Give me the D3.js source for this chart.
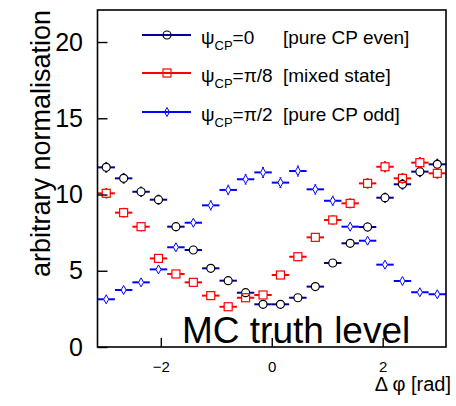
<!DOCTYPE html>
<html>
<head>
<meta charset="utf-8">
<script src="https://cdn.jsdelivr.net/npm/d3@7/dist/d3.min.js"></script>
<style>
  html, body { margin: 0; padding: 0; background: #fff; }
  svg { display: block; font-family: "Liberation Sans", Arial, Helvetica, sans-serif; }
</style>
</head>
<body>
<svg id="chart" width="456" height="406"></svg>
<script>
// ---- data ----
const nBins = 20;
const xTicks = [-2, 0, 2];
const yTicks = [0, 5, 10, 15, 20];
const evenValues  = [11.78, 11.06, 10.18, 9.66, 7.89, 6.36, 5.16, 4.35, 3.56, 2.80, 2.80, 3.23, 3.96, 5.51, 6.80, 7.87, 9.79, 10.67, 11.50, 11.98];
const mixedValues = [10.08, 8.81, 7.89, 5.81, 4.79, 4.24, 3.37, 2.64, 3.23, 3.41, 4.72, 5.92, 7.19, 8.33, 9.42, 10.73, 11.82, 11.06, 12.09, 11.39];
const oddValues   = [3.13, 3.74, 4.24, 5.09, 6.54, 8.15, 9.29, 10.30, 11.00, 11.45, 10.78, 11.54, 10.34, 9.59, 7.89, 6.97, 5.40, 4.33, 3.59, 3.46];
const evenErrors  = [0.35, 0.35, 0.34, 0.33, 0.30, 0.27, 0.25, 0.23, 0.20, 0.18, 0.18, 0.19, 0.21, 0.25, 0.28, 0.30, 0.33, 0.35, 0.36, 0.37];
const mixedErrors = [0.34, 0.32, 0.30, 0.26, 0.24, 0.22, 0.20, 0.18, 0.19, 0.20, 0.23, 0.26, 0.28, 0.31, 0.33, 0.35, 0.37, 0.35, 0.37, 0.36];
const oddErrors   = [0.19, 0.21, 0.22, 0.24, 0.27, 0.30, 0.33, 0.34, 0.35, 0.36, 0.35, 0.36, 0.34, 0.33, 0.30, 0.28, 0.25, 0.22, 0.20, 0.20];
const seriesNames = ["=0", "=\u03C0/8", "=\u03C0/2"];
const seriesNotes = ["[pure CP even]", "[mixed state]", "[pure CP odd]"];

// ---- layout ----
const L = 97.5, R = 446, T = 10, B = 347;
const svg = d3.select("#chart");

const x = d3.scaleLinear().domain([-Math.PI, Math.PI]).range([L, R]);
const y = d3.scaleLinear().domain([0, 22.1]).range([B, T]);
const binW = 2 * Math.PI / nBins;
const binLo = d3.range(nBins).map(i => -Math.PI + i * binW);

const series = [
  { vals: evenValues,  errs: evenErrors,  line: "#000099", mark: "#000000", shape: "circle" },
  { vals: mixedValues, errs: mixedErrors, line: "#ff0000", mark: "#ff0000", shape: "square" },
  { vals: oddValues,   errs: oddErrors,   line: "#0000ff", mark: "#0000ff", shape: "diamond" }
];

function halfW(shape) { return shape === "circle" ? 4 : shape === "square" ? 4 : 2.5; }
function halfH(shape) { return shape === "circle" ? 4 : shape === "square" ? 4 : 4.5; }

function drawMarker(g, shape, cx, cy, color) {
  if (shape === "circle") {
    g.append("circle").attr("cx", cx).attr("cy", cy).attr("r", 4)
      .attr("fill", "none").attr("stroke", color).attr("stroke-width", 1.2);
  } else if (shape === "square") {
    g.append("rect").attr("x", cx - 4).attr("y", cy - 4).attr("width", 8).attr("height", 8)
      .attr("fill", "none").attr("stroke", color).attr("stroke-width", 1.2);
  } else {
    g.append("path").attr("d", `M${cx},${cy-4.5}L${cx+2.5},${cy}L${cx},${cy+4.5}L${cx-2.5},${cy}Z`)
      .attr("fill", "none").attr("stroke", color).attr("stroke-width", 1);
  }
}

// ---- data points ----
const plot = svg.append("g");
series.forEach(s => {
  const g = plot.append("g");
  s.vals.forEach((v, i) => {
    const x0 = x(binLo[i]), x1 = x(binLo[i] + binW), cx = x(binLo[i] + binW / 2), cy = y(v);
    const hw = halfW(s.shape), hh = halfH(s.shape);
    g.append("line").attr("x1", x0).attr("x2", cx - hw).attr("y1", cy).attr("y2", cy)
      .attr("stroke", s.line).attr("stroke-width", 2);
    g.append("line").attr("x1", cx + hw).attr("x2", x1).attr("y1", cy).attr("y2", cy)
      .attr("stroke", s.line).attr("stroke-width", 2);
    const eTop = y(v + s.errs[i]), eBot = y(v - s.errs[i]);
    if (eTop < cy - hh) g.append("line").attr("x1", cx).attr("x2", cx).attr("y1", cy - hh).attr("y2", eTop)
      .attr("stroke", s.line).attr("stroke-width", 2);
    if (eBot > cy + hh) g.append("line").attr("x1", cx).attr("x2", cx).attr("y1", cy + hh).attr("y2", eBot)
      .attr("stroke", s.line).attr("stroke-width", 2);
    drawMarker(g, s.shape, cx, cy, s.mark);
  });
});

// ---- frame and axes ----
svg.append("rect").attr("x", L).attr("y", T).attr("width", R - L).attr("height", B - T)
  .attr("fill", "none").attr("stroke", "#000").attr("stroke-width", 1.6);

const xAxis = d3.axisBottom(x).tickValues(xTicks).tickSizeInner(-9).tickSizeOuter(0)
  .tickPadding(14).tickFormat(d => d < 0 ? "\u2212" + Math.abs(d) : String(d));
const gx = svg.append("g").attr("transform", `translate(0,${B})`).call(xAxis);
gx.select(".domain").remove();
gx.selectAll(".tick line").attr("stroke", "#000").attr("stroke-width", 1.4);
gx.selectAll(".tick text").attr("font-size", 15).attr("fill", "#000")
  .attr("font-family", "Liberation Sans, Arial, sans-serif").attr("dy", "0.71em");

const yAxis = d3.axisLeft(y).tickValues(yTicks).tickSizeInner(-10).tickSizeOuter(0)
  .tickPadding(14.5).tickFormat(d3.format("d"));
const gy = svg.append("g").attr("transform", `translate(${L},0)`).call(yAxis);
gy.select(".domain").remove();
gy.selectAll(".tick line").attr("stroke", "#000").attr("stroke-width", 1.4);
gy.selectAll(".tick text").attr("font-size", 25).attr("fill", "#000")
  .attr("font-family", "Liberation Sans, Arial, sans-serif");

// axis titles
svg.append("text").attr("transform", `translate(50,10) rotate(-90)`)
  .attr("text-anchor", "end").attr("font-size", 27).attr("fill", "#000")
  .text("arbitrary normalisation");
svg.append("text").attr("x", 451).attr("y", 391).attr("text-anchor", "end")
  .attr("font-size", 20).attr("fill", "#000").text("\u0394 \u03C6 [rad]");

// MC truth label
svg.append("text").attr("x", 182).attr("y", 343).attr("font-size", 37).attr("fill", "#000")
  .text("MC truth level");

// ---- legend ----
const legY = [35, 73, 112];
series.forEach((s, k) => {
  const g = svg.append("g");
  const ly = legY[k];
  g.append("line").attr("x1", 142).attr("x2", 191).attr("y1", ly).attr("y2", ly)
    .attr("stroke", s.line).attr("stroke-width", 2);
  drawMarker(g, s.shape, 167, ly, s.mark);
  const t = g.append("text").attr("x", 201).attr("y", ly + 9).attr("font-size", 19).attr("fill", "#000");
  t.append("tspan").text("\u03C8");
  t.append("tspan").attr("font-size", 13).attr("dy", 6).text("CP");
  t.append("tspan").attr("dy", -6).text(seriesNames[k]);
  g.append("text").attr("x", 283).attr("y", ly + 9).attr("font-size", 19).attr("fill", "#000")
    .text(seriesNotes[k]);
});
</script>
</body>
</html>
